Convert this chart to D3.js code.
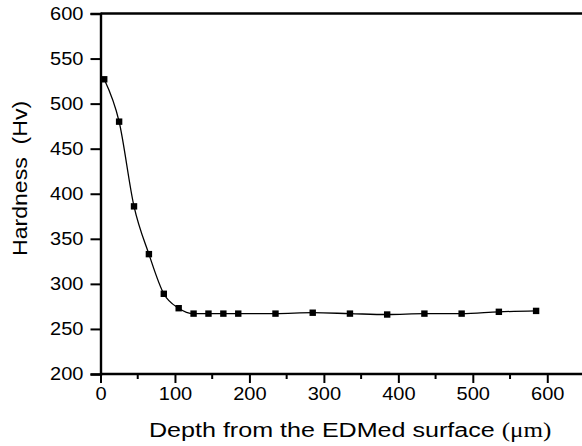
<!DOCTYPE html>
<html><head><meta charset="utf-8">
<script src="https://cdn.jsdelivr.net/npm/d3@7"></script>
<style>body{margin:0;background:#fff}svg{display:block}</style>
</head><body>
<svg id="c" width="582" height="446"></svg>
<script>
const depth = [5, 25, 45, 65, 85, 105, 125, 145, 165, 185, 235, 285, 335, 385, 435, 485, 535, 585];
const hardness = [527, 480, 386, 333, 289, 273, 267, 267, 267, 267, 267, 268, 267, 266, 267, 267, 269, 270];
const xTicks = [0, 100, 200, 300, 400, 500, 600];
const xMinor = [50, 150, 250, 350, 450, 550, 650];
const yTicks = [200, 250, 300, 350, 400, 450, 500, 550, 600];

const svg = d3.select("#c");
const font = "'Liberation Sans', Arial, sans-serif";
const x = d3.scaleLinear().domain([0, 650]).range([100.5, 584.5]);
const y = d3.scaleLinear().domain([200, 600]).range([374, 13.5]);

// top frame line
svg.append("line").attr("x1", x(0)).attr("x2", 600).attr("y1", y(600)).attr("y2", y(600))
  .attr("stroke", "#000").attr("stroke-width", 2.4);

// x axis
const gx = svg.append("g").attr("transform", `translate(0,${y(200)})`)
  .call(d3.axisBottom(x).tickValues(xTicks).tickSize(9).tickPadding(4).tickFormat(d3.format("d")));
gx.append("g").selectAll("line").data(xMinor).join("line")
  .attr("x1", d => x(d)).attr("x2", d => x(d)).attr("y1", 0).attr("y2", 5)
  .attr("stroke", "#000").attr("stroke-width", 2);
gx.select(".domain").attr("d", `M${x(0)},0H600`);

// y axis
const gy = svg.append("g").attr("transform", `translate(${x(0)},0)`)
  .call(d3.axisLeft(y).tickValues(yTicks).tickSize(10).tickPadding(7).tickFormat(d3.format("d")));

[gx, gy].forEach(g => {
  g.select(".domain").attr("stroke", "#000").attr("stroke-width", 2.4);
  g.selectAll(".tick line").attr("stroke", "#000").attr("stroke-width", 2);
  g.selectAll(".tick text").attr("fill", "#000").style("font-family", font).style("font-size", "18.5px");
});
// widen tick labels slightly to match reference glyph width
gx.selectAll(".tick text").each(function () {
  const t = d3.select(this);
  const w = this.getComputedTextLength();
  const n = t.text().length;
  const sx = (n * 11.15) / w;
  const yy = +t.attr("y");
  t.attr("y", null).attr("dy", "0.71em").attr("transform", `translate(0,${yy}) scale(${sx},1)`);
});
gy.selectAll(".tick text").each(function () {
  const t = d3.select(this);
  const w = this.getComputedTextLength();
  const n = t.text().length;
  const sx = (n * 11.15) / w;
  const xx = +t.attr("x");
  t.attr("x", null).attr("transform", `translate(${xx},0) scale(${sx},1)`);
});

// line
const pts = depth.map((d, i) => [d, hardness[i]]);
svg.append("path").datum(pts)
  .attr("d", d3.line().x(d => x(d[0])).y(d => y(d[1])).curve(d3.curveMonotoneX))
  .attr("fill", "none").attr("stroke", "#000").attr("stroke-width", 1.3);

svg.append("g").selectAll("rect").data(pts).join("rect")
  .attr("x", d => x(d[0]) - 3.2).attr("y", d => y(d[1]) - 3.2)
  .attr("width", 6.4).attr("height", 6.4).attr("fill", "#000");

// titles
const xt = svg.append("text").attr("x", 0).attr("y", 0)
  .style("font-family", font).style("font-size", "21px").attr("fill", "#000");
xt.append("tspan").text("Depth from the EDMed surface ");
xt.append("tspan").style("font-family", "'Liberation Serif', 'Times New Roman', serif").text("(μm)");
{
  const w = xt.node().getBBox().width;
  xt.attr("transform", `translate(149,436.5) scale(${402.7 / w},1)`);
}

const yt = svg.append("text").attr("x", 0).attr("y", 0)
  .style("font-family", font).style("font-size", "19.5px").attr("fill", "#000")
  .attr("xml:space", "preserve").text("Hardness  (Hv)");
{
  const w = yt.node().getBBox().width;
  yt.attr("transform", `translate(26.7,256) rotate(-90) scale(${155.3 / w},1)`);
}
</script>
</body></html>
